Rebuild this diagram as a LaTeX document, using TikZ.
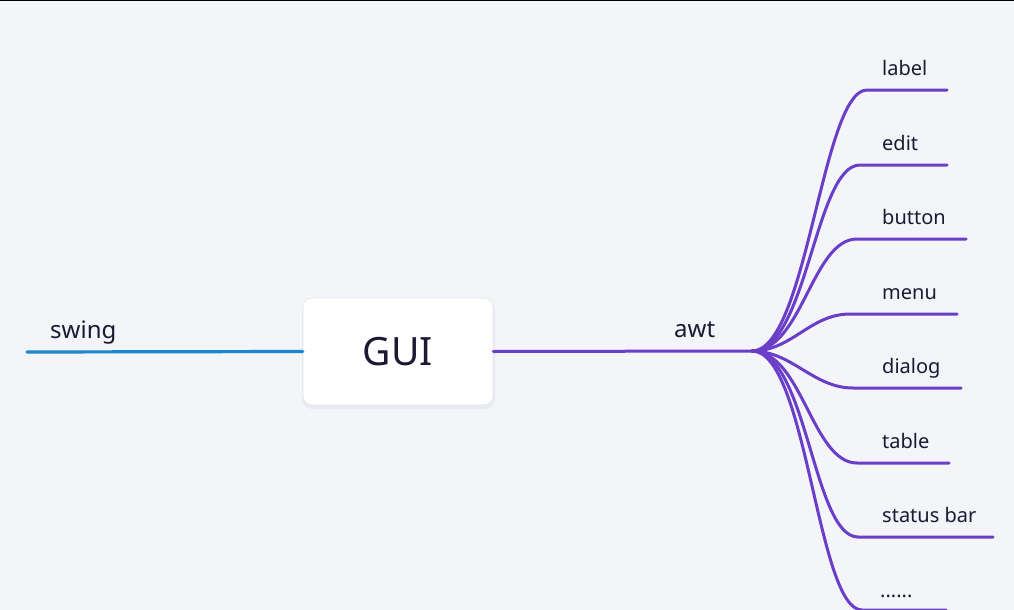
\documentclass[tikz,border=0pt]{standalone}
\usepackage{fontspec}
\setmainfont{Noto Sans}
\usepackage{tikz}
\usetikzlibrary{positioning}
\usepackage{xcolor}
\definecolor{paper}{RGB}{244,245,249}
\definecolor{swingblue}{RGB}{26,134,208}
\definecolor{awtpurple}{RGB}{106,62,200}
\definecolor{inkdark}{RGB}{28,26,51}
\definecolor{shadowgray}{RGB}{234,235,241}
\definecolor{edgegray}{RGB}{228,230,236}

\begin{document}
\begin{tikzpicture}[
                x=1pt, y=-1pt,
                line cap=round,
                guibox/.style={shape=rectangle, rounded corners=9pt, fill=white, draw=edgegray, line width=0.6pt,
                               minimum width=190pt, minimum height=107pt, text=inkdark, font=\fontsize{39}{44}\selectfont},
                mainlabel/.style={anchor=base west, inner sep=0pt, text=inkdark, font=\fontsize{24}{28}\selectfont},
                leaflabel/.style={anchor=base west, inner sep=0pt, text=inkdark, font=\fontsize{20}{24}\selectfont},
                swingline/.style={swingblue, line width=3.2pt},
                awtline/.style={awtpurple, line width=3pt}
                ]
                %% Background
                \fill[paper] (0,0) rectangle (1014,610);
                \fill[black] (0,0) rectangle (1014,1.5);
                \useasboundingbox (0,0) rectangle (1014,610);

                %% Central topic
                \fill[shadowgray, rounded corners=10pt] (302,300) rectangle (495,409);
                \node[guibox] (gui) at (398,351.5) {GUI};

                %% Left branch
                \coordinate (swingend) at (27,352);
                \draw[swingline] (gui.west) -- (swingend);
                \node[mainlabel] (swing) at (50,338) {swing};

                %% Right branch
                \coordinate (hub) at (752,351);
                \draw[awtline] (gui.east) -- (hub);
                \node[mainlabel] (awt) at (674,337) {awt};

                        % Leaves of awt
\coordinate (labels) at (867,90);   \coordinate (labele) at (947,90);
\coordinate (edits) at (860,165);   \coordinate (edite) at (947,165);
\coordinate (buttons) at (857,239); \coordinate (buttone) at (966,239);
\coordinate (menus) at (850,314);   \coordinate (menue) at (957,314);
\coordinate (dialogs) at (853,388); \coordinate (dialoge) at (961,388);
\coordinate (tables) at (857,463);  \coordinate (tablee) at (949,463);
\coordinate (statuss) at (858,537); \coordinate (statuse) at (993,537);
\coordinate (mores) at (862,610);   \coordinate (moree) at (946,610);

\draw[awtline] (hub) .. controls +(55,0) and +(-45,0) .. (labels) -- (labele);
\draw[awtline] (hub) .. controls +(55,0) and +(-45,0) .. (edits) -- (edite);
\draw[awtline] (hub) .. controls +(50,0) and +(-45,0) .. (buttons) -- (buttone);
\draw[awtline] (hub) .. controls +(40,0) and +(-40,0) .. (menus) -- (menue);
\draw[awtline] (hub) .. controls +(40,0) and +(-40,0) .. (dialogs) -- (dialoge);
\draw[awtline] (hub) .. controls +(50,0) and +(-45,0) .. (tables) -- (tablee);
\draw[awtline] (hub) .. controls +(55,0) and +(-45,0) .. (statuss) -- (statuse);
\draw[awtline] (hub) .. controls +(55,0) and +(-45,0) .. (mores) -- (moree);

\node[leaflabel] (label) at (882,75) {label};
\node[leaflabel] (edit) at (882,150) {edit};
\node[leaflabel] (button) at (882,224) {button};
\node[leaflabel] (menu) at (882,299) {menu};
\node[leaflabel] (dialog) at (882,373) {dialog};
\node[leaflabel] (table) at (882,448) {table};
\node[leaflabel] (status) at (882,522) {status bar};
\node[leaflabel] (more) at (880,597) {......};
                    \end{tikzpicture}
\end{document}
